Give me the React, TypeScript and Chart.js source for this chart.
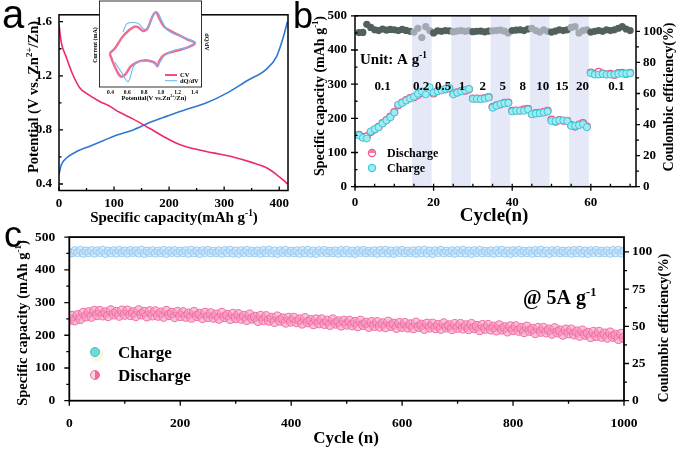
import React, { useEffect, useRef } from "react";
import { Chart, registerables } from "chart.js";
Chart.register(...registerables);

const SERIF = "'Liberation Serif', 'Times New Roman', serif";
const SANS = "'Liberation Sans', Arial, sans-serif";

// ---------- Panel a : charge / discharge profile ----------
const aDisCap = [0, 4, 13, 25, 38, 50, 74, 90, 110, 135, 165, 195, 220, 245, 280, 316, 350, 377, 395, 407, 415];
const aDisV = [1.58, 1.45, 1.34, 1.21, 1.11, 1.07, 1.01, 0.98, 0.93, 0.88, 0.81, 0.74, 0.69, 0.66, 0.63, 0.6, 0.56, 0.52, 0.47, 0.43, 0.4];
const aChgCap = [0, 4, 13, 32, 56, 80, 104, 135, 168, 195, 231, 268, 304, 340, 377, 395, 407, 415];
const aChgV = [0.47, 0.54, 0.59, 0.64, 0.68, 0.72, 0.76, 0.8, 0.86, 0.9, 0.95, 1.0, 1.07, 1.16, 1.25, 1.34, 1.48, 1.6];
const aXTicks = [0, 100, 200, 300, 400];
const aXMinor = [50, 150, 250, 350];
const aYTicks = [0.4, 0.8, 1.2, 1.6];
const aYMinor = [0.6, 1.0, 1.4];

// ---------- Inset : CV vs dQ/dV ----------
const cvX = [0.39, 0.46, 0.54, 0.62, 0.68, 0.72, 0.79, 0.84, 0.9, 0.94, 0.98, 1.04, 1.12, 1.22, 1.32, 1.4, 1.4, 1.32, 1.22, 1.1, 1.02, 0.98, 0.96, 0.93, 0.88, 0.8, 0.72, 0.64, 0.58, 0.53, 0.49, 0.44, 0.39];
const cvY = [39, 46, 58, 66, 70, 70, 65, 68, 82, 87, 80, 70, 65, 60, 55, 52, 50, 46, 43, 40, 36, 30, 24, 28, 30, 31, 29, 24, 15, 12, 16, 26, 39];
const dqX = [0.45, 0.53, 0.61, 0.67, 0.72, 0.83, 0.91, 0.96, 0.99, 1.05, 1.17, 1.31, 1.4, 1.4, 1.27, 1.15, 1.07, 1.01, 0.96, 0.91, 0.86, 0.8, 0.73, 0.65, 0.59, 0.55];
const dqY = [29, 17, 6, 23, 29, 30, 28, 25, 29, 37, 43, 46, 51, 52.5, 58, 62, 67, 77, 87, 85, 71, 67, 74, 75, 73, 64];
const insetXTicks = [0.4, 0.6, 0.8, 1.0, 1.2, 1.4];

// ---------- Panel b : rate capability ----------
const bCycles = [1, 2, 3, 4, 5, 6, 7, 8, 9, 10, 11, 12, 13, 14, 15, 16, 17, 18, 19, 20, 21, 22, 23, 24, 25, 26, 27, 28, 29, 30, 31, 32, 33, 34, 35, 36, 37, 38, 39, 40, 41, 42, 43, 44, 45, 46, 47, 48, 49, 50, 51, 52, 53, 54, 55, 56, 57, 58, 59, 60, 61, 62, 63, 64, 65, 66, 67, 68, 69, 70];
const bCharge = [150, 143, 141, 162, 168, 174, 185, 194, 203, 217, 240, 245, 252, 258, 263, 272, 279, 270, 291, 275, 279, 282, 286, 289, 270, 275, 279, 282, 286, 257, 257, 256, 258, 261, 231, 237, 242, 244, 245, 220, 222, 222, 222, 226, 212, 214, 215, 217, 220, 192, 192, 194, 194, 192, 178, 178, 180, 183, 174, 332, 328, 328, 330, 328, 328, 328, 330, 331, 331, 332];
const bDischarge = [152, 145, 147, 160, 167, 175, 186, 195, 205, 218, 238, 246, 253, 259, 262, 268, 275, 272, 280, 273, 280, 283, 285, 288, 272, 276, 280, 281, 285, 258, 258, 257, 259, 262, 233, 238, 241, 245, 246, 222, 223, 223, 226, 228, 213, 215, 216, 218, 222, 196, 190, 195, 193, 193, 180, 176, 182, 186, 176, 334, 330, 336, 331, 329, 330, 327, 332, 333, 330, 333];
const bCE = [99.2, 99.3, 104.5, 102.5, 101, 100.5, 101.5, 100.8, 101.2, 101, 100.5, 101.2, 100.6, 100, 99.5, 102, 96, 103, 100.5, 99, 100.3, 100, 100.5, 100.3, 99.8, 100.2, 100.5, 100, 100.3, 99.8, 100, 100.2, 99.7, 100.2, 100.3, 100.5, 100.8, 100.2, 99, 100.5, 100.8, 101, 100.5, 101.5, 102, 100.5, 99.5, 101, 100, 99.5, 100.2, 101, 100.5, 101, 102.5, 103, 99, 100.5, 101, 99.5, 100, 100.5, 100, 101, 100.5, 101, 102, 103, 101.5, 100.5];
const bRates = ["0.1", "0.2", "0.5", "1", "2", "5", "8", "10", "15", "20", "0.1"];
const bRateAt = [7.0, 16.8, 22.4, 27.2, 32.5, 37.6, 42.7, 47.8, 52.7, 57.9, 66.5];
const bShaded = [[14.5, 19.5], [24.5, 29.5], [34.5, 39.5], [44.5, 49.5], [54.5, 59.5]];
const bXTicks = [0, 20, 40, 60];
const bXMinor = [5, 10, 15, 25, 30, 35, 45, 50, 55, 65, 70];
const bYTicks = [0, 100, 200, 300, 400, 500];
const bYMinor = [50, 150, 250, 350, 450];
const bY2Ticks = [0, 20, 40, 60, 80, 100];
const bY2Minor = [10, 30, 50, 70, 90];

// ---------- Panel c : long cycling at 5 A/g ----------
const cCycles = [
  1, 5, 10, 15, 20, 25, 30, 35, 40, 45, 50, 55, 60, 65, 70, 75, 80, 85, 90, 95, 100,
  105, 110, 115, 120, 125, 130, 135, 140, 145, 150, 155, 160, 165, 170, 175, 180, 185, 190, 195, 200,
  205, 210, 215, 220, 225, 230, 235, 240, 245, 250, 255, 260, 265, 270, 275, 280, 285, 290, 295, 300,
  305, 310, 315, 320, 325, 330, 335, 340, 345, 350, 355, 360, 365, 370, 375, 380, 385, 390, 395, 400,
  405, 410, 415, 420, 425, 430, 435, 440, 445, 450, 455, 460, 465, 470, 475, 480, 485, 490, 495, 500,
  505, 510, 515, 520, 525, 530, 535, 540, 545, 550, 555, 560, 565, 570, 575, 580, 585, 590, 595, 600,
  605, 610, 615, 620, 625, 630, 635, 640, 645, 650, 655, 660, 665, 670, 675, 680, 685, 690, 695, 700,
  705, 710, 715, 720, 725, 730, 735, 740, 745, 750, 755, 760, 765, 770, 775, 780, 785, 790, 795, 800,
  805, 810, 815, 820, 825, 830, 835, 840, 845, 850, 855, 860, 865, 870, 875, 880, 885, 890, 895, 900,
  905, 910, 915, 920, 925, 930, 935, 940, 945, 950, 955, 960, 965, 970, 975, 980, 985, 990, 995, 1000,
];
const cDischarge = [
  248, 259, 246, 261, 250, 268, 258, 270, 257, 274, 262,
  274, 261, 270, 259, 276, 264, 271, 260, 275, 263,
  275, 262, 270, 259, 276, 264, 271, 258, 273, 261,
  273, 260, 269, 257, 274, 262, 268, 256, 271, 259,
  270, 257, 266, 254, 271, 259, 265, 253, 268, 256,
  267, 254, 263, 251, 268, 256, 262, 250, 265, 253,
  264, 251, 259, 247, 263, 251, 256, 244, 259, 247,
  258, 245, 253, 241, 257, 245, 251, 239, 253, 242,
  253, 240, 248, 236, 252, 240, 246, 234, 248, 237,
  248, 235, 244, 232, 248, 236, 242, 230, 244, 233,
  244, 231, 240, 228, 244, 232, 238, 226, 240, 229,
  240, 227, 236, 225, 241, 229, 235, 223, 237, 226,
  237, 224, 233, 222, 238, 226, 232, 220, 235, 224,
  235, 222, 231, 220, 236, 224, 230, 219, 234, 223,
  234, 221, 230, 219, 234, 222, 228, 216, 231, 220,
  231, 218, 226, 215, 230, 218, 224, 212, 227, 216,
  227, 214, 222, 210, 226, 214, 219, 207, 222, 211,
  222, 209, 217, 205, 221, 209, 214, 202, 217, 206,
  217, 203, 211, 199, 214, 202, 207, 195, 210, 198,
  210, 196, 205, 193, 208, 196, 201, 189, 204, 192,
];
const cCE = [
  99.5, 99.3, 100.9, 99.6, 101.1, 99.1, 100.7, 99.5, 101.0, 99.2, 100.8,
  99.6, 101.2, 99.0, 100.6, 99.4, 100.9, 99.2, 101.1, 99.5, 100.7,
  99.1, 101.0, 99.6, 100.8, 99.3, 101.2, 99.0, 100.6, 99.5, 100.9,
  99.2, 100.7, 99.4, 101.1, 99.0, 100.8, 99.6, 101.0, 99.3, 100.6,
  99.5, 100.9, 99.1, 101.2, 99.4, 100.7, 99.0, 100.9, 99.6, 101.1,
  99.3, 100.6, 99.5, 100.8, 99.1, 101.0, 99.4, 101.2, 99.2, 100.7,
  99.0, 100.9, 99.6, 101.1, 99.3, 100.6, 99.5, 100.8, 99.1, 101.0,
  99.4, 101.2, 99.2, 100.7, 99.0, 100.9, 99.6, 101.1, 99.3, 100.6,
  99.5, 100.8, 99.1, 101.0, 99.4, 101.2, 99.2, 100.7, 99.0, 100.9,
  99.6, 101.1, 99.3, 100.6, 99.5, 100.8, 99.1, 101.0, 99.4, 101.2,
  99.2, 100.7, 99.0, 100.9, 99.6, 101.1, 99.3, 100.6, 99.5, 100.8,
  99.1, 101.0, 99.4, 101.2, 99.2, 100.7, 99.0, 100.9, 99.6, 101.1,
  99.3, 100.6, 99.5, 100.8, 99.1, 101.0, 99.4, 101.2, 99.2, 100.7,
  99.0, 100.9, 99.6, 101.1, 99.3, 100.6, 99.5, 100.8, 99.1, 101.0,
  99.4, 101.2, 99.2, 100.7, 99.0, 100.9, 99.6, 101.1, 99.3, 100.6,
  99.5, 100.8, 99.1, 101.0, 99.4, 101.2, 99.2, 100.7, 99.0, 100.9,
  99.6, 101.1, 99.3, 100.6, 99.5, 100.8, 99.1, 101.0, 99.4, 101.2,
  99.2, 100.7, 99.0, 100.9, 99.6, 101.1, 99.3, 100.6, 99.5, 100.8,
  99.1, 101.0, 99.4, 101.2, 99.2, 100.7, 99.0, 100.9, 99.6, 101.1,
  99.3, 100.6, 99.5, 100.8, 99.1, 101.0, 99.4, 101.2, 99.2, 100.7,
];
const cXTicks = [0, 200, 400, 600, 800, 1000];
const cXMinor = [100, 300, 500, 700, 900];
const cYTicks = [0, 100, 200, 300, 400, 500];
const cYMinor = [50, 150, 250, 350, 450];
const cY2Ticks = [0, 25, 50, 75, 100];
const cY2Minor = [12.5, 37.5, 62.5, 87.5];

Chart.defaults.font.family = SERIF;

type Part = [string, number];
function rich(ctx: CanvasRenderingContext2D, parts: Part[], x: number, y: number, size: number, rot = 0, align: "left" | "center" = "center", weight = "bold", family = SERIF) {
  ctx.save();
  ctx.translate(x, y);
  ctx.rotate(rot);
  const f = (k: number) => `${weight} ${k ? size * 0.62 : size}px ${family}`;
  const widths = parts.map(([t, k]) => {
    ctx.font = f(k);
    return ctx.measureText(t).width;
  });
  const total = widths.reduce((a, b) => a + b, 0);
  let cx = align === "center" ? -total / 2 : 0;
  ctx.fillStyle = "#000";
  ctx.textAlign = "left";
  ctx.textBaseline = "alphabetic";
  parts.forEach(([t, k], i) => {
    ctx.font = f(k);
    ctx.fillText(t, cx, size * 0.35 - (k ? size * 0.42 : 0));
    cx += widths[i];
  });
  ctx.restore();
}

function marks(chart: any, id: string, vals: number[], out: number, inn: number) {
  const s = chart.scales[id];
  const a = chart.chartArea;
  const ctx: CanvasRenderingContext2D = chart.ctx;
  ctx.save();
  ctx.strokeStyle = "#000";
  ctx.lineWidth = 1.3;
  ctx.beginPath();
  vals.forEach((v) => {
    const p = s.getPixelForValue(v);
    if (s.position === "bottom") {
      ctx.moveTo(p, a.bottom - inn);
      ctx.lineTo(p, a.bottom + out);
    } else if (s.position === "left") {
      ctx.moveTo(a.left + inn, p);
      ctx.lineTo(a.left - out, p);
    } else {
      ctx.moveTo(a.right - inn, p);
      ctx.lineTo(a.right + out, p);
    }
  });
  ctx.stroke();
  ctx.restore();
}

function box(chart: any, lw: number) {
  const a = chart.chartArea;
  const ctx: CanvasRenderingContext2D = chart.ctx;
  ctx.save();
  ctx.strokeStyle = "#000";
  ctx.lineWidth = lw;
  ctx.strokeRect(a.left, a.top, a.right - a.left, a.bottom - a.top);
  ctx.restore();
}

function letter(ctx: CanvasRenderingContext2D, t: string, x: number, y: number, size: number) {
  ctx.save();
  ctx.font = `normal ${size}px ${SANS}`;
  ctx.fillStyle = "#000";
  ctx.textBaseline = "alphabetic";
  ctx.textAlign = "left";
  ctx.fillText(t, x, y);
  ctx.restore();
}

function axis(o: { min: number; max: number; ticks: number[]; pad: number; fit: number; horiz: boolean; pos: string; size?: number; fmt?: (v: number) => string; display?: boolean }) {
  return {
    type: "linear",
    position: o.pos,
    display: o.display !== false,
    min: o.min,
    max: o.max,
    afterFit: (s: any) => {
      if (o.horiz) s.height = o.fit;
      else s.width = o.fit;
    },
    afterBuildTicks: (s: any) => {
      s.ticks = o.ticks.map((v) => ({ value: v }));
    },
    grid: { display: false, drawTicks: false },
    border: { display: false },
    ticks: {
      color: "#000",
      font: { family: SERIF, weight: "bold", size: o.size ?? 13 },
      padding: o.pad,
      autoSkip: false,
      maxRotation: 0,
      minRotation: 0,
      callback: (v: any) => (o.fmt ? o.fmt(Number(v)) : String(v)),
    },
  } as any;
}

const baseOpts = (padding: any) => ({
  animation: false as const,
  responsive: false,
  events: [] as any[],
  layout: { padding, autoPadding: false },
  plugins: { legend: { display: false }, tooltip: { enabled: false } },
});

function cfgA(): any {
  return {
    type: "scatter",
    data: {
      datasets: [
        { data: aDisCap.map((x, i) => ({ x, y: aDisV[i] })), showLine: true, borderColor: "#ee2b66", borderWidth: 1.6, pointRadius: 0, cubicInterpolationMode: "monotone" },
        { data: aChgCap.map((x, i) => ({ x, y: aChgV[i] })), showLine: true, borderColor: "#2f78d2", borderWidth: 1.6, pointRadius: 0, cubicInterpolationMode: "monotone" },
      ],
    },
    options: {
      ...baseOpts({ left: 0, top: 5, right: 12, bottom: 0 }),
      scales: {
        x: axis({ min: 0, max: 416, ticks: aXTicks, pad: 5, fit: 34.5, horiz: true, pos: "bottom" }),
        y: axis({ min: 0.352, max: 1.651, ticks: aYTicks, pad: 7, fit: 59, horiz: false, pos: "left" }),
      },
    },
    plugins: [
      {
        id: "pa",
        afterDraw(chart: any) {
          const ctx = chart.ctx;
          box(chart, 1.5);
          marks(chart, "x", aXTicks, 0, 4);
          marks(chart, "x", aXMinor, 0, 2.5);
          marks(chart, "y", aYTicks, 0, 4);
          marks(chart, "y", aYMinor, 0, 2.5);
          letter(ctx, "a", 2, 28, 40);
          rich(ctx, [["Potential (V vs. Zn", 0], ["2+", 1], ["/Zn)", 0]], 33, 97, 14.5, -Math.PI / 2);
          rich(ctx, [["Specific capacity(mAh g", 0], ["-1", 1], [")", 0]], 174, 217, 15);
        },
      },
    ],
  };
}

function cfgInset(): any {
  return {
    type: "scatter",
    data: {
      datasets: [
        { data: dqX.map((x, i) => ({ x, y: dqY[i] })), showLine: true, borderColor: "#6db8f0", borderWidth: 1.1, pointRadius: 0, tension: 0.3 },
        { data: cvX.map((x, i) => ({ x, y: cvY[i] })), showLine: true, borderColor: "rgba(240,80,125,0.85)", borderWidth: 2.4, pointRadius: 0, tension: 0.3 },
      ],
    },
    options: {
      ...baseOpts({ left: 11.5, top: 1, right: 11.4, bottom: 0 }),
      scales: {
        x: axis({ min: 0.269, max: 1.485, ticks: insetXTicks, pad: 2, fit: 17, horiz: true, pos: "bottom", size: 5.5, fmt: (v) => v.toFixed(1) }),
        y: { ...axis({ min: 0, max: 100, ticks: [], pad: 0, fit: 0, horiz: false, pos: "left" }), display: false },
      },
    },
    plugins: [
      {
        id: "pin",
        beforeDraw(chart: any) {
          const a = chart.chartArea;
          chart.ctx.save();
          chart.ctx.fillStyle = "#fff";
          chart.ctx.fillRect(a.left, a.top, a.right - a.left, a.bottom - a.top);
          chart.ctx.restore();
        },
        afterDraw(chart: any) {
          const ctx: CanvasRenderingContext2D = chart.ctx;
          box(chart, 0.8);
          rich(ctx, [["Potential(V vs.Zn", 0], ["2+", 1], ["/Zn)", 0]], 66, 97.5, 6.5);
          rich(ctx, [["Current (mA)", 0]], 7, 45, 6, -Math.PI / 2);
          rich(ctx, [["dQ/dV", 0]], 119, 42, 6, Math.PI / 2);
          ctx.save();
          ctx.lineWidth = 2;
          ctx.strokeStyle = "#f0507d";
          ctx.beginPath();
          ctx.moveTo(77, 75);
          ctx.lineTo(89, 75);
          ctx.stroke();
          ctx.lineWidth = 1.1;
          ctx.strokeStyle = "#6db8f0";
          ctx.beginPath();
          ctx.moveTo(77, 80.7);
          ctx.lineTo(89, 80.7);
          ctx.stroke();
          ctx.restore();
          rich(ctx, [["CV", 0]], 92, 75, 6.5, 0, "left");
          rich(ctx, [["dQ/dV", 0]], 92, 80.7, 6.5, 0, "left");
        },
      },
    ],
  };
}

const inShade = (c: number) => bShaded.some(([a, b]) => c > a && c < b);

function cfgB(): any {
  return {
    type: "scatter",
    data: {
      datasets: [
        { data: bCycles.map((x, i) => ({ x, y: bCharge[i] })), yAxisID: "y", pointRadius: 3.5, pointBorderWidth: 1, pointBackgroundColor: "#9eecf2", pointBorderColor: "#3cc8d8" },
        { data: bCycles.map((x, i) => ({ x, y: bDischarge[i] })), yAxisID: "y", pointRadius: 3.5, pointBorderWidth: 1.2, pointBackgroundColor: "#fff", pointBorderColor: "#f0508a" },
        {
          data: bCycles.map((x, i) => ({ x, y: bCE[i] })),
          yAxisID: "y2",
          pointRadius: 3.6,
          pointBorderWidth: 0,
          pointBackgroundColor: bCycles.map((c) => (inShade(c) ? "#a3a9b0" : "#51605e")),
        },
      ],
    },
    options: {
      ...baseOpts({ left: 0, top: 6, right: 0, bottom: 0 }),
      scales: {
        x: axis({ min: 0, max: 71.5, ticks: bXTicks, pad: 8, fit: 38.3, horiz: true, pos: "bottom" }),
        y: axis({ min: 0, max: 500, ticks: bYTicks, pad: 8, fit: 65, horiz: false, pos: "left" }),
        y2: axis({ min: 0, max: 110, ticks: bY2Ticks, pad: 7, fit: 40, horiz: false, pos: "right" }),
      },
    },
    plugins: [
      {
        id: "pb",
        beforeDatasetsDraw(chart: any) {
          const ctx: CanvasRenderingContext2D = chart.ctx;
          const a = chart.chartArea;
          const xs = chart.scales.x;
          ctx.save();
          ctx.fillStyle = "#e5e8f6";
          bShaded.forEach(([l, r]) => {
            const x0 = xs.getPixelForValue(l);
            const x1 = xs.getPixelForValue(r);
            ctx.fillRect(x0, a.top, x1 - x0, a.bottom - a.top);
          });
          ctx.restore();
        },
        afterDraw(chart: any) {
          const ctx: CanvasRenderingContext2D = chart.ctx;
          const xs = chart.scales.x;
          const ys = chart.scales.y;
          box(chart, 1.5);
          marks(chart, "x", bXTicks, 4, 3);
          marks(chart, "x", bXMinor, 0, 3);
          marks(chart, "y", bYTicks, 4, 3);
          marks(chart, "y", bYMinor, 0, 2.5);
          marks(chart, "y2", bY2Ticks, 4, 0);
          marks(chart, "y2", bY2Minor, 3, 0);
          letter(ctx, "b", 3, 28, 36);
          rich(ctx, [["Specific capacity (mAh g", 0], ["-1", 1], [")", 0]], 29, 96, 14, -Math.PI / 2);
          rich(ctx, [["Coulombic efficiency(%)", 0]], 378, 97, 14, -Math.PI / 2);
          rich(ctx, [["Cycle(n)", 0]], 204, 214, 19);
          rich(ctx, [["Unit: A g", 0], ["-1", 1]], 70, ys.getPixelForValue(374), 15, 0, "left");
          bRates.forEach((t, i) => rich(ctx, [[t, 0]], xs.getPixelForValue(bRateAt[i]), ys.getPixelForValue(295), 13));
          // legend
          ctx.save();
          ctx.lineWidth = 1.2;
          ctx.fillStyle = "#fff";
          ctx.strokeStyle = "#f0508a";
          ctx.beginPath();
          ctx.arc(82, 153, 3.6, 0, Math.PI * 2);
          ctx.fill();
          ctx.stroke();
          ctx.fillStyle = "#f47aa5";
          ctx.beginPath();
          ctx.arc(82, 153, 3.6, Math.PI, Math.PI * 2);
          ctx.fill();
          ctx.fillStyle = "#9eecf2";
          ctx.strokeStyle = "#3cc8d8";
          ctx.beginPath();
          ctx.arc(82, 168, 3.6, 0, Math.PI * 2);
          ctx.fill();
          ctx.stroke();
          ctx.restore();
          rich(ctx, [["Discharge", 0]], 97, 153, 12, 0, "left");
          rich(ctx, [["Charge", 0]], 97, 168, 12, 0, "left");
        },
      },
    ],
  };
}

function cfgC(): any {
  return {
    type: "scatter",
    data: {
      datasets: [
        { data: cCycles.map((x, i) => ({ x, y: cDischarge[i] })), yAxisID: "y", pointRadius: 4.7, pointBorderWidth: 1, pointBackgroundColor: "rgba(247,150,190,0.6)", pointBorderColor: "#f06aa2" },
        { data: cCycles.map((x, i) => ({ x, y: cCE[i] })), yAxisID: "y2", pointRadius: 4, pointBorderWidth: 1, pointBackgroundColor: "rgba(195,225,250,0.6)", pointBorderColor: "#96caf2" },
      ],
    },
    options: {
      ...baseOpts({ left: 0, top: 12.7, right: 0, bottom: 0 }),
      scales: {
        x: axis({ min: 0, max: 1000, ticks: cXTicks, pad: 15, fit: 48.3, horiz: true, pos: "bottom", size: 13.5 }),
        y: axis({ min: 0, max: 500, ticks: cYTicks, pad: 14, fit: 69.3, horiz: false, pos: "left", size: 13.5 }),
        y2: axis({ min: 0, max: 110, ticks: cY2Ticks, pad: 8, fit: 52, horiz: false, pos: "right", size: 13.5 }),
      },
    },
    plugins: [
      {
        id: "pc",
        afterDraw(chart: any) {
          const ctx: CanvasRenderingContext2D = chart.ctx;
          box(chart, 1.8);
          marks(chart, "x", cXTicks, 5, 0);
          marks(chart, "x", cXMinor, 3, 0);
          marks(chart, "y", cYTicks, 5, 0);
          marks(chart, "y", cYMinor, 3, 0);
          marks(chart, "y2", cY2Ticks, 5, 0);
          marks(chart, "y2", cY2Minor, 3, 0);
          letter(ctx, "c", 4, 32, 36);
          rich(ctx, [["Specific capacity (mAh g", 0], ["-1", 1], [")", 0]], 22, 108, 14.5, -Math.PI / 2);
          rich(ctx, [["Coulombic efficiency(%)", 0]], 663, 113, 14, -Math.PI / 2);
          rich(ctx, [["Cycle (n)", 0]], 346, 222, 17);
          rich(ctx, [["@ 5A g", 0], ["-1", 1]], 523, 82, 20, 0, "left");
          // legend
          ctx.save();
          ctx.fillStyle = "#f6f8dc";
          ctx.beginPath();
          ctx.arc(97, 140, 6.5, 0, Math.PI * 2);
          ctx.fill();
          ctx.fillStyle = "#6fd8d8";
          ctx.strokeStyle = "#3cbfc8";
          ctx.lineWidth = 1;
          ctx.beginPath();
          ctx.arc(95, 137, 4.5, 0, Math.PI * 2);
          ctx.fill();
          ctx.stroke();
          ctx.fillStyle = "#fbd3e2";
          ctx.beginPath();
          ctx.arc(95, 160, 4.5, 0, Math.PI * 2);
          ctx.fill();
          ctx.fillStyle = "#f06aa0";
          ctx.beginPath();
          ctx.arc(95, 160, 4.5, -Math.PI / 2, Math.PI / 2);
          ctx.fill();
          ctx.strokeStyle = "#f06aa0";
          ctx.beginPath();
          ctx.arc(95, 160, 4.5, 0, Math.PI * 2);
          ctx.stroke();
          ctx.restore();
          rich(ctx, [["Charge", 0]], 118, 137, 17, 0, "left");
          rich(ctx, [["Discharge", 0]], 118, 160, 17, 0, "left");
        },
      },
    ],
  };
}

const cv = (l: number, t: number, w: number, h: number): React.CSSProperties => ({ position: "absolute", left: l, top: t, width: w, height: h });

export default function App() {
  const rA = useRef<HTMLCanvasElement>(null);
  const rI = useRef<HTMLCanvasElement>(null);
  const rB = useRef<HTMLCanvasElement>(null);
  const rC = useRef<HTMLCanvasElement>(null);
  useEffect(() => {
    const charts = [
      new Chart(rC.current as HTMLCanvasElement, cfgC()),
      new Chart(rA.current as HTMLCanvasElement, cfgA()),
      new Chart(rB.current as HTMLCanvasElement, cfgB()),
      new Chart(rI.current as HTMLCanvasElement, cfgInset()),
    ];
    return () => charts.forEach((c) => c.destroy());
  }, []);
  return (
    <div style={{ position: "absolute", left: 0, top: 0, width: 676, height: 449, background: "#fff", overflow: "hidden" }}>
      <canvas ref={rC} width={676} height={234} style={cv(0, 215, 676, 234)} />
      <canvas ref={rA} width={300} height={225} style={cv(0, 0, 300, 225)} />
      <canvas ref={rB} width={386} height={225} style={cv(290, 0, 386, 225)} />
      <canvas ref={rI} width={125} height={104} style={cv(88, 0, 125, 104)} />
    </div>
  );
}
